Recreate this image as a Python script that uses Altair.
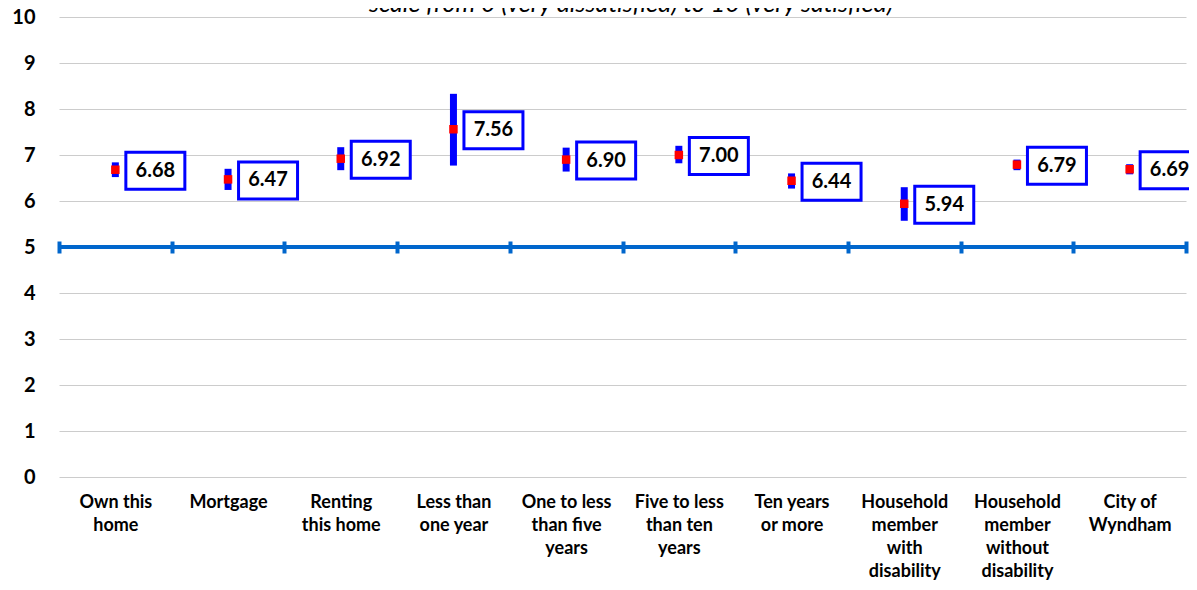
import altair as alt
import pandas as pd

# Category labels ("|" marks a line break in the axis label)
categories = [
    "Own this|home",
    "Mortgage",
    "Renting|this home",
    "Less than|one year",
    "One to less|than five|years",
    "Five to less|than ten|years",
    "Ten years|or more",
    "Household|member|with|disability",
    "Household|member|without|disability",
    "City of|Wyndham",
]
means = [6.68, 6.47, 6.92, 7.56, 6.90, 7.00, 6.44, 5.94, 6.79, 6.69]
ci_low = [6.52, 6.24, 6.67, 6.77, 6.64, 6.82, 6.27, 5.57, 6.67, 6.58]
ci_high = [6.84, 6.70, 7.17, 8.33, 7.16, 7.20, 6.60, 6.30, 6.90, 6.80]
y_ticks = [0, 1, 2, 3, 4, 5, 6, 7, 8, 9, 10]
reference_value = [5]
title_text = ["scale from 0 (very dissatisfied) to 10 (very satisfied)"]

df = pd.DataFrame({"cat": categories, "mean": means, "lo": ci_low, "hi": ci_high})

FONT = "Lato"

x_enc = alt.X(
    "cat:N",
    sort=categories,
    scale=alt.Scale(domain=categories, paddingInner=0, paddingOuter=0),
    axis=alt.Axis(
        title=None,
        orient="bottom",
        offset=-236,
        domain=False,
        grid=False,
        ticks=True,
        tickBand="extent",
        tickSize=12,
        tickWidth=4,
        tickColor="#0066CC",
        labelAngle=0,
        labelExpr="split(datum.label, '|')",
        labelFont=FONT,
        labelFontSize=18,
        labelFontWeight="bold",
        labelColor="#000000",
        labelLineHeight=23,
        labelPadding=240,
        labelOverlap=False,
        labelLimit=300,
    ),
)

y_scale = alt.Scale(domain=[0, 10], nice=False, zero=True)
y_axis = alt.Axis(
    title=None,
    values=y_ticks,
    domain=False,
    ticks=False,
    grid=True,
    gridColor="#CCCCCC",
    gridWidth=1,
    labelFont=FONT,
    labelFontSize=20,
    labelFontWeight="bold",
    labelColor="#000000",
    labelPadding=24,
)

base = alt.Chart(df).encode(x=x_enc)

bars = base.mark_rule(color="#0000FF", strokeWidth=7).encode(
    y=alt.Y("lo:Q", scale=y_scale, axis=y_axis),
    y2="hi:Q",
)

ref_line = alt.Chart(pd.DataFrame({"v": reference_value})).mark_rule(
    color="#0066CC", strokeWidth=4
).encode(y=alt.Y("v:Q", scale=y_scale))

points = base.mark_square(color="#FF0000", size=72, opacity=1).encode(
    y=alt.Y("mean:Q", scale=y_scale)
)

box_shape = "M-1,-0.627L1,-0.627L1,0.627L-1,0.627Z"
boxes = base.mark_point(
    shape=box_shape,
    size=3481,
    filled=True,
    fill="#FFFFFF",
    stroke="#0000FF",
    strokeWidth=3,
    opacity=1,
    fillOpacity=1,
    xOffset=40,
    yOffset=1,
).encode(y=alt.Y("mean:Q", scale=y_scale))

labels = base.mark_text(
    xOffset=40,
    yOffset=1,
    font=FONT,
    fontSize=20,
    fontWeight="bold",
    color="#000000",
    align="center",
    baseline="middle",
).encode(
    y=alt.Y("mean:Q", scale=y_scale),
    text=alt.Text("mean:Q", format=".2f"),
)

title = alt.Chart(pd.DataFrame({"t": title_text})).mark_text(
    font=FONT,
    fontSize=25,
    fontStyle="italic",
    color="#000000",
    align="center",
    baseline="alphabetic",
).encode(x=alt.value(572), y=alt.value(-5), text="t:N")

chart = (
    alt.layer(ref_line, bars, points, boxes, labels, title)
    .properties(
        width=1127,
        height=460,
        padding={"left": 51, "top": 9, "right": 3, "bottom": 105},
        autosize=alt.AutoSizeParams(type="none"),
        background="#FFFFFF",
    )
    .configure_view(stroke=None)
)

chart.save("out.html", embed_options={"renderer": "svg", "actions": False})
